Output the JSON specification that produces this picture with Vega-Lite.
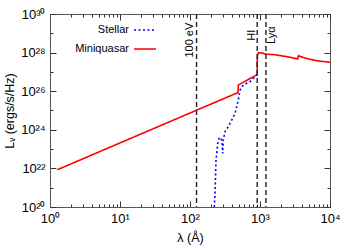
{
  "$schema": "https://vega.github.io/schema/vega-lite/v6.json",
  "autosize": "none",
  "width": 280,
  "height": 193,
  "padding": {"left": 50, "top": 14, "right": 20, "bottom": 38},
  "config": {
    "font": "Liberation Sans",
    "view": {"stroke": "#555", "strokeWidth": 1},
    "axis": {
      "labelFont": "Liberation Sans", "labelFontSize": 13, "labelColor": "#000",
      "titleFont": "Liberation Sans", "titleFontSize": 12.5, "titleFontWeight": "normal", "titleColor": "#000",
      "grid": false, "domainColor": "#555", "tickColor": "#333", "labelOverlap": false, "labelFlush": false
    },
    "legend": {"labelFont": "Liberation Sans", "labelFontSize": 11, "labelColor": "#000"}
  },
  "resolve": {"axis": {"x": "independent", "y": "independent"}},
  "layer": [
    {
      "data": {"values": [
        {"s": "Miniquasar", "i": 1, "lam": 1.27, "L": 8.5e21},
        {"s": "Miniquasar", "i": 2, "lam": 10, "L": 2.09e23},
        {"s": "Miniquasar", "i": 3, "lam": 100, "L": 7.4e24},
        {"s": "Miniquasar", "i": 4, "lam": 485, "L": 8.5e25},
        {"s": "Miniquasar", "i": 5, "lam": 490, "L": 2.09e26},
        {"s": "Miniquasar", "i": 6, "lam": 912, "L": 7.24e26},
        {"s": "Miniquasar", "i": 7, "lam": 912, "L": 3.55e27},
        {"s": "Miniquasar", "i": 8, "lam": 925, "L": 7.94e27},
        {"s": "Miniquasar", "i": 9, "lam": 960, "L": 1.0e28},
        {"s": "Miniquasar", "i": 10, "lam": 1000, "L": 9.33e27},
        {"s": "Miniquasar", "i": 11, "lam": 1050, "L": 9.77e27},
        {"s": "Miniquasar", "i": 12, "lam": 1216, "L": 8.3e27},
        {"s": "Miniquasar", "i": 13, "lam": 1637, "L": 7.76e27},
        {"s": "Miniquasar", "i": 14, "lam": 2500, "L": 6.03e27},
        {"s": "Miniquasar", "i": 15, "lam": 3450, "L": 4.68e27},
        {"s": "Miniquasar", "i": 16, "lam": 3550, "L": 6.92e27},
        {"s": "Miniquasar", "i": 17, "lam": 3800, "L": 6.17e27},
        {"s": "Miniquasar", "i": 18, "lam": 4900, "L": 4.68e27},
        {"s": "Miniquasar", "i": 19, "lam": 7000, "L": 3.63e27},
        {"s": "Miniquasar", "i": 20, "lam": 10000, "L": 3.16e27},
        {"s": "Stellar", "i": 1, "lam": 222, "L": 1.0e20},
        {"s": "Stellar", "i": 2, "lam": 228, "L": 5.13e20},
        {"s": "Stellar", "i": 3, "lam": 233, "L": 8.3e21},
        {"s": "Stellar", "i": 4, "lam": 235, "L": 2.75e22},
        {"s": "Stellar", "i": 5, "lam": 241, "L": 6.03e22},
        {"s": "Stellar", "i": 6, "lam": 249, "L": 2.0e23},
        {"s": "Stellar", "i": 7, "lam": 260, "L": 3.63e23},
        {"s": "Stellar", "i": 8, "lam": 275, "L": 3.98e23},
        {"s": "Stellar", "i": 9, "lam": 287, "L": 2.4e23},
        {"s": "Stellar", "i": 10, "lam": 293, "L": 6.03e22},
        {"s": "Stellar", "i": 11, "lam": 299, "L": 2.95e23},
        {"s": "Stellar", "i": 12, "lam": 316, "L": 7.94e23},
        {"s": "Stellar", "i": 13, "lam": 352, "L": 1.45e24},
        {"s": "Stellar", "i": 14, "lam": 394, "L": 3.16e24},
        {"s": "Stellar", "i": 15, "lam": 439, "L": 7.08e24},
        {"s": "Stellar", "i": 16, "lam": 490, "L": 3.47e25},
        {"s": "Stellar", "i": 17, "lam": 518, "L": 1.15e26},
        {"s": "Stellar", "i": 18, "lam": 577, "L": 2.09e26},
        {"s": "Stellar", "i": 19, "lam": 719, "L": 3.09e26},
        {"s": "Stellar", "i": 20, "lam": 849, "L": 5.62e26},
        {"s": "Stellar", "i": 21, "lam": 912, "L": 6.92e26}
      ]},
      "mark": {"type": "line", "strokeWidth": 1.6, "clip": true},
      "encoding": {
        "x": {"field": "lam", "type": "quantitative",
          "scale": {"type": "log", "domain": [1, 10000], "nice": false},
          "axis": {"orient": "bottom", "title": "λ (Å)", "titlePadding": 3,
            "values": [1,2,3,4,5,6,7,8,9,10,20,30,40,50,60,70,80,90,100,200,300,400,500,600,700,800,900,1000,2000,3000,4000,5000,6000,7000,8000,9000,10000],
            "labelExpr": "abs(log(datum.value)/LN10 - round(log(datum.value)/LN10)) < 0.001 ? '10' + substring('⁰¹²³⁴', round(log(datum.value)/LN10), round(log(datum.value)/LN10)+1) : ''",
            "tickSize": {"condition": {"test": "abs(log(datum.value)/LN10 - round(log(datum.value)/LN10)) < 0.001", "value": -6}, "value": -3},
            "labelPadding": 11}},
        "y": {"field": "L", "type": "quantitative",
          "scale": {"type": "log", "domain": [1e20, 1e30], "nice": false},
          "axis": {"orient": "left", "title": "Lᵥ (ergs/s/Hz)", "titlePadding": 4,
            "values": [1e20,1e21,1e22,1e23,1e24,1e25,1e26,1e27,1e28,1e29,1e30],
            "labelExpr": "round(log(datum.value)/LN10) % 2 == 0 ? '10' + substring('⁰¹²³⁴⁵⁶⁷⁸⁹', floor(round(log(datum.value)/LN10)/10), floor(round(log(datum.value)/LN10)/10)+1) + substring('⁰¹²³⁴⁵⁶⁷⁸⁹', round(log(datum.value)/LN10)%10, round(log(datum.value)/LN10)%10+1) : ''",
            "tickSize": {"condition": {"test": "round(log(datum.value)/LN10) % 2 == 0", "value": -6}, "value": -3},
            "labelPadding": 11}},
        "color": {"field": "s", "type": "nominal",
          "scale": {"domain": ["Stellar", "Miniquasar"], "range": ["#0000ff", "#ff0000"]},
          "legend": {"orient": "none", "legendX": 83, "legendY": 4, "title": null, "padding": 0,
            "symbolType": "stroke", "symbolSize": 484, "symbolStrokeWidth": 1.7,
            "labelAlign": "right", "labelOffset": -28, "rowPadding": 2}},
        "strokeDash": {"field": "s", "type": "nominal",
          "scale": {"domain": ["Stellar", "Miniquasar"], "range": [[2, 2.5], [1, 0]]}},
        "order": {"field": "i", "type": "quantitative"}
      }
    },
    {
      "data": {"values": [{"lam": 124}, {"lam": 912}, {"lam": 1216}]},
      "mark": {"type": "rule", "color": "#222", "strokeWidth": 1.4, "strokeDash": [5, 3]},
      "encoding": {
        "x": {"field": "lam", "type": "quantitative",
          "scale": {"type": "log", "domain": [1, 10000], "nice": false},
          "axis": {"orient": "top", "title": null, "labels": false, "domain": false,
            "values": [1,2,3,4,5,6,7,8,9,10,20,30,40,50,60,70,80,90,100,200,300,400,500,600,700,800,900,1000,2000,3000,4000,5000,6000,7000,8000,9000,10000],
            "tickSize": {"condition": {"test": "abs(log(datum.value)/LN10 - round(log(datum.value)/LN10)) < 0.001", "value": -6}, "value": -3}}}
      }
    },
    {
      "data": {"values": [
        {"lam": 110, "L": 3.55e29, "label": "100 eV"},
        {"lam": 837, "L": 1.55e29, "label": "HI"},
        {"lam": 1617, "L": 2.29e29, "label": "Lyα"}
      ]},
      "mark": {"type": "text", "angle": -90, "align": "right", "baseline": "alphabetic", "fontSize": 11, "font": "Liberation Sans", "color": "#000"},
      "encoding": {
        "x": {"field": "lam", "type": "quantitative",
          "scale": {"type": "log", "domain": [1, 10000], "nice": false}, "axis": null},
        "y": {"field": "L", "type": "quantitative",
          "scale": {"type": "log", "domain": [1e20, 1e30], "nice": false},
          "axis": {"orient": "right", "title": null, "labels": false, "domain": false,
            "values": [1e20,1e21,1e22,1e23,1e24,1e25,1e26,1e27,1e28,1e29,1e30],
            "tickSize": {"condition": {"test": "round(log(datum.value)/LN10) % 2 == 0", "value": -6}, "value": -3}}},
        "text": {"field": "label", "type": "nominal"}
      }
    }
  ]
}
